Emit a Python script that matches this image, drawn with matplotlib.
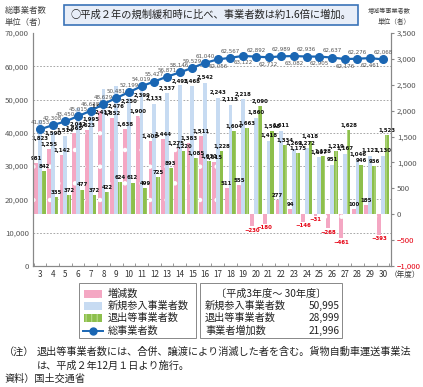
import numpy as np
import matplotlib.pyplot as plt
from matplotlib.patches import Rectangle
from matplotlib.lines import Line2D

plt.rcParams['font.family'] = ['Noto Sans CJK JP', 'DejaVu Sans']
plt.rcParams['hatch.linewidth'] = 0.8

#%% data
years = list(range(3, 31))
total = [41053, 42308, 43450, 45015, 46638, 48629, 50481, 52199, 54019, 55427,
         56871, 58146, 59529, 61040, 62056, 62567, 63122, 62892, 62712, 62989,
         63082, 62936, 62905, 62637, 62176, 62276, 62461, 62068]
entry = [1823, 1590, 1514, 2042, 1995, 2413, 2476, 2250, 2399, 2133,
         2337, 2495, 2468, 2542, 2243, 2115, 2218, 1860, 1418, 1611,
         1269, 1272, 1097, 951, 1167, 1046, 1121, 1130]
exits = [842, 335, 372, 477, 372, 422, 624, 612, 499, 725,
         893, 1220, 1085, 1031, 1228, 1604, 1663, 2090, 1598, 1334,
         1175, 1418, 1128, 1219, 1628, 946, 936, 1523]
change = [981, 1255, 1142, 1565, 1623, 1991, 1852, 1638, 1900, 1408,
          1444, 1275, 1383, 1511, 1015, 511, 555, -230, -180, 277,
          94, -146, -31, -268, -461, 100, 185, -393]
# line label below the marker for these years
below = [17, 19, 21, 23, 25, 27, 29]

left_ticks = [0, 10000, 20000, 30000, 40000, 50000, 60000, 70000]
right_ticks = [-1000, -500, 0, 500, 1000, 1500, 2000, 2500, 3000, 3500]

pink = '#f4a7c3'
blue = '#c7dbf2'
green = '#8dbf4c'
navy = '#1a66b3'
grey = '#555555'
cond = dict(family=['DejaVu Sans'], fontstretch='condensed')

x = np.array(years, dtype=float)
w = 0.3

fig = plt.figure(figsize=(4.23, 3.87), dpi=100)
ax = fig.add_axes([0.078, 0.3127, 0.846, 0.602])
ax2 = ax.twinx()
ax.set_zorder(2)
ax2.set_zorder(1)
ax.patch.set_visible(False)

#%% bars (right axis)
lo, hi = -1000, 3500
ax2.set_ylim(lo, hi)
ax.set_ylim(0, 70000)
for v in left_ticks[1:-1]:
    r = lo + v * (hi - lo) / 70000
    ax2.axhline(r, color='#999999', lw=0.6, ls=(0, (2, 2)), zorder=0)

ax2.bar(x - w, change, w, color=pink, edgecolor='white', lw=0, hatch='.', zorder=2)
ax2.bar(x, entry, w, color=blue, lw=0, zorder=2)
ax2.bar(x + w, exits, w, color=green, edgecolor='#b9dc8c', lw=0, hatch='|||', zorder=2)

lab = dict(fontsize=4.3, fontweight='bold', ha='center', **cond)
for i, yr in enumerate(years):
    r_line = lo + total[i] * (hi - lo) / 70000
    yb = min(entry[i] + 100, r_line - 170)
    ax2.text(yr, yb, f'{entry[i]:,}', va='center', color='#111111', zorder=5, **lab)
    ax2.text(yr + w, exits[i] + 40, f'{exits[i]:,}', va='bottom', color='#111111', zorder=5, **lab)
    if change[i] >= 0:
        ax2.text(yr - w, change[i] + 40, f'{change[i]:,}', va='bottom', color='#111111', zorder=5, **lab)
    else:
        ax2.text(yr - w, change[i] - 30, f'\u2212{-change[i]:,}', va='top', color='#e60012', zorder=5, **lab)

#%% line (left axis)
ax.plot(x, total, '-o', color=navy, lw=1.6, ms=5.5, zorder=4)
for i, yr in enumerate(years):
    if yr in below:
        ax.text(yr, total[i] - 1300, f'{total[i]:,}', ha='center', va='top', fontsize=4.4,
                color=grey, **cond)
    else:
        ax.text(yr, total[i] + 1300, f'{total[i]:,}', ha='center', va='bottom', fontsize=4.4,
                color=grey, **cond)

#%% axes cosmetics
ax.set_xlim(2.45, 30.63)
ax.set_xticks(x)
ax.set_xticklabels([str(y) for y in years], fontsize=5.8, color='#333333')
ax.tick_params(axis='x', length=0, pad=3)
ax.set_xticks(np.arange(2.5, 31, 1), minor=True)
ax.tick_params(axis='x', which='minor', direction='in', length=2.5, color='#888888')
ax.set_yticks(left_ticks)
ax.set_yticklabels([f'{v:,}' for v in left_ticks], fontsize=5.6, color=grey)
ax.tick_params(axis='y', length=0, pad=3)
ax2.set_yticks(right_ticks)
ax2.set_yticklabels([f'{v:,}'.replace('-', '\u2212') for v in right_ticks], fontsize=5.6, color=grey)
ax2.tick_params(axis='y', length=2.5, color='#888888', pad=2)
for t in ax2.get_yticklabels():
    if t.get_text().startswith('\u2212'):
        t.set_color('#e60012')
for a in (ax, ax2):
    a.spines['top'].set_visible(False)
    for s in ('left', 'right', 'bottom'):
        a.spines[s].set_color('#888888')
        a.spines[s].set_linewidth(0.8)

fig.text(405 / 423, 1 - 275 / 387, '（年度）', fontsize=5.5, color='#333333', ha='center', va='center')
fig.text(5 / 423, 1 - 10 / 387, '総事業者数', fontsize=6, color='#444444', va='center')
fig.text(5 / 423, 1 - 22 / 387, '単位（者）', fontsize=6, color='#444444', va='center')
fig.text(411 / 423, 1 - 10 / 387, '増減等事業者数', fontsize=4.4, color='#444444', va='center', ha='right')
fig.text(411 / 423, 1 - 22 / 387, '単位（者）', fontsize=4.8, color='#444444', va='center', ha='right')

# header box
fig.patches.append(Rectangle((64 / 423, 1 - 25 / 387), 294 / 423, 20 / 387, transform=fig.transFigure,
                             fc='#e8eef8', ec='#3a73b8', lw=1.2))
fig.text(211 / 423, 1 - 15 / 387, '○平成２年の規制緩和時に比べ、事業者数は約1.6倍に増加。',
         fontsize=7.4, color='#222222', ha='center', va='center')

#%% legend boxes
fig.patches.append(Rectangle((79 / 423, 1 - 338 / 387), 117 / 423, 55 / 387, transform=fig.transFigure,
                             fc='white', ec='#888888', lw=0.7))
fig.patches.append(Rectangle((200 / 423, 1 - 338 / 387), 142 / 423, 55 / 387, transform=fig.transFigure,
                             fc='white', ec='#888888', lw=0.7))
names = ['増減数', '新規参入事業者数', '退出等事業者数', '総事業者数']
rows = [294, 306, 318, 331]
fig.patches.append(Rectangle((84 / 423, 1 - 298 / 387), 18 / 423, 8 / 387, transform=fig.transFigure,
                             fc=pink, ec='white', lw=0, hatch='.'))
fig.patches.append(Rectangle((84 / 423, 1 - 310 / 387), 18 / 423, 8 / 387, transform=fig.transFigure,
                             fc=blue, lw=0))
fig.patches.append(Rectangle((84 / 423, 1 - 322 / 387), 18 / 423, 8 / 387, transform=fig.transFigure,
                             fc=green, ec='#b9dc8c', lw=0, hatch='|||'))
fig.lines.append(Line2D([83 / 423, 103 / 423], [1 - 331 / 387, 1 - 331 / 387], transform=fig.transFigure,
                        color=navy, lw=1.4))
fig.lines.append(Line2D([93 / 423], [1 - 331 / 387], transform=fig.transFigure,
                        color=navy, marker='o', ms=5))
for n, r in zip(names, rows):
    fig.text(108 / 423, 1 - r / 387, n, fontsize=7.3, color='#222222', va='center')

summary_names = ['新規参入事業者数', '退出等事業者数', '事業者増加数']
summary_vals = [50995, 28999, 21996]
fig.text(271 / 423, 1 - 294 / 387, '〔平成3年度～ 30年度〕', fontsize=7.3, color='#222222', ha='center', va='center')
for n, v, r in zip(summary_names, summary_vals, rows[1:]):
    fig.text(205 / 423, 1 - r / 387, n, fontsize=7.3, color='#222222', va='center')
    fig.text(340 / 423, 1 - r / 387, f'{v:,}', fontsize=7.3, color='#222222', va='center', ha='right')

#%% notes
fig.text(4 / 423, 1 - 352 / 387, '（注）', fontsize=7.3, color='#222222', va='center')
fig.text(37 / 423, 1 - 352 / 387, '退出等事業者数には、合併、譲渡により消滅した者を含む。貨物自動車運送事業法',
         fontsize=7.3, color='#222222', va='center')
fig.text(37 / 423, 1 - 366 / 387, 'は、平成２年12月１日より施行。', fontsize=7.3, color='#222222', va='center')
fig.text(4 / 423, 1 - 379 / 387, '資料）国土交通省', fontsize=7.3, color='#222222', va='center')

fig.savefig('out.png', dpi=100)
